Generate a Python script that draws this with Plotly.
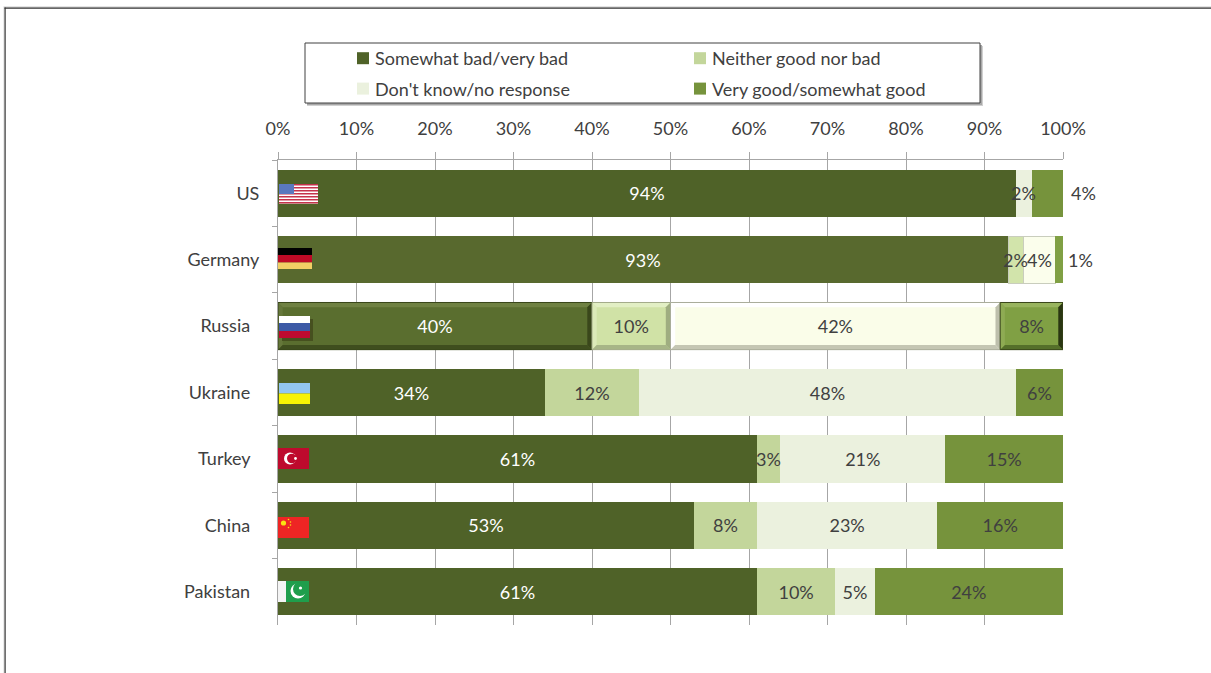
import plotly.graph_objects as go

categories = ["US", "Germany", "Russia", "Ukraine", "Turkey", "China", "Pakistan"]
label_padding = [0, 0, 2, 2, 2, 2, 2]
tick_values = list(range(0, 101, 10))
bad = [94, 93, 40, 34, 61, 53, 61]
neither = [0, 2, 10, 12, 3, 8, 10]
dont_know = [2, 4, 42, 48, 21, 23, 5]
good = [4, 1, 8, 6, 15, 16, 24]
series_names = ["Somewhat bad/very bad", "Neither good nor bad", "Don't know/no response", "Very good/somewhat good"]
series_values = [bad, neither, dont_know, good]

W, H = 1211, 673
L, R, T, B = 278, 1063, 160, 625
FONT = "Lato"
TXT = "#404040"
base = ["#4F6228", "#C3D69B", "#EBF1DE", "#76933C"]
hi_bad = {1: "#58692E", 2: "#5A6E2F"}
hi_nei = {1: "#D2E4AB", 2: "#D0E2A6"}
hi_dk = {1: "#FBFEEC", 2: "#FAFDE9"}
hi_good = {1: "#80A044", 2: "#80A044"}
highlights = [hi_bad, hi_nei, hi_dk, hi_good]

labels = [c + "\u00a0" * p for c, p in zip(categories, label_padding)]


def px(x):
    return (x - L) / (R - L)


def py(y):
    return (B - y) / (B - T)


annotations = []
fig = go.Figure()
running = [0] * len(categories)
for s, (name, vals) in enumerate(zip(series_names, series_values)):
    colors = [highlights[s].get(i, base[s]) for i in range(len(vals))]
    line_c = ["#C9CDBD" if (i == 1 and s in (1, 2)) else colors[i] for i in range(len(vals))]
    line_w = [1 if (i == 1 and s in (1, 2)) else 0 for i in range(len(vals))]
    text = []
    for i, v in enumerate(vals):
        outside = s == 3 and i in (0, 1)
        narrow = s in (1, 2) and 0 < v <= 4
        if narrow:
            # drawn above every bar so that neighbouring segments cannot cover it
            annotations.append(dict(x=running[i] + v / 2, y=labels[i], xref="x", yref="y",
                                    text=f"{v}%", showarrow=False, xanchor="center", yanchor="middle",
                                    font=dict(family=FONT, size=18, color=TXT)))
        text.append("" if v == 0 or outside or narrow else f"{v}%")
        running[i] += v
    fig.add_trace(go.Bar(
        y=labels, x=vals, name=name, orientation="h", text=text,
        textposition="inside", insidetextanchor="middle", constraintext="none",
        textangle=0,
        textfont=dict(family=FONT, size=18, color="#FFFFFF" if s == 0 else TXT),
        marker=dict(color=colors, line=dict(color=line_c, width=line_w)),
        hoverinfo="name+x+y",
    ))

shapes = []


def rect_px(x0, y0, x1, y1, color, layer="above"):
    shapes.append(dict(type="rect", xref="paper", yref="paper",
                       x0=px(x0), x1=px(x1), y0=py(y0), y1=py(y1),
                       fillcolor=color, line=dict(width=0), layer=layer))


def circle_px(cx, cy, r, color):
    shapes.append(dict(type="circle", xref="paper", yref="paper",
                       x0=px(cx - r), x1=px(cx + r), y0=py(cy + r), y1=py(cy - r),
                       fillcolor=color, line=dict(width=0), layer="above"))


# Page frame
rect_px(3.5, 6.5, W, 7.5, "#C8C8C8", "below")
rect_px(3.5, 7.5, 4.5, H, "#D8D8D8", "below")
rect_px(4.5, 7.5, W, 8.7, "#333333", "below")
rect_px(4.5, 7.5, 5.7, H, "#333333", "below")

# Legend box with shadow
rect_px(307, 46, 983, 106, "#D0D0D0", "below")
rect_px(307, 45, 982, 105, "#A8A8A8", "below")
rect_px(305, 43, 980, 103, "#FFFFFF", "below")
shapes.append(dict(type="rect", xref="paper", yref="paper", x0=px(305), x1=px(980), y0=py(103), y1=py(43),
                   line=dict(color="#404040", width=1), layer="below"))

# Mitred bevel on the Russia segments
russia = 2
start = 0
bx = 0.6
by = 0.07
half = 0.355
for s, vals in enumerate(series_values):
    v = vals[russia]
    a, b = start, start + v
    start = b
    top = ["#6F8142", "#E2EFC4", "#FFFFFF", "#98B45E"][s]
    left = ["#65773A", "#DCEAB9", "#FFFFFF", "#8EAB53"][s]
    bottom = ["#3F4E1E", "#A7B587", "#C4C6B3", "#55702A"][s]
    right = ["#3A471B", "#9FAD80", "#BDBFAC", "#2A3612"][s]
    outline = ["#3A471B", "#A3AC8A", "#A9AD9A", "#3A471B"][s]
    y0, y1 = russia - half, russia + half
    polys = [
        (f"M{a},{y0}L{b},{y0}L{b - bx},{y0 + by}L{a + bx},{y0 + by}Z", top),
        (f"M{a},{y0}L{a + bx},{y0 + by}L{a + bx},{y1 - by}L{a},{y1}Z", left),
        (f"M{a},{y1}L{a + bx},{y1 - by}L{b - bx},{y1 - by}L{b},{y1}Z", bottom),
        (f"M{b},{y0}L{b},{y1}L{b - bx},{y1 - by}L{b - bx},{y0 + by}Z", right),
    ]
    for path, col in polys:
        shapes.append(dict(type="path", xref="x", yref="y", path=path, fillcolor=col,
                           line=dict(width=0), layer="above"))
    shapes.append(dict(type="rect", xref="x", yref="y", x0=a, x1=b, y0=y0, y1=y1,
                       fillcolor="rgba(0,0,0,0)", line=dict(color=outline, width=1), layer="above"))

# Flags
# US
rect_px(279, 184, 318, 203.7, "#FFFFFF")
for k in range(7):
    rect_px(279, 184 + k * 2.98, 318, 184 + k * 2.98 + 1.5, "#C5334B")
rect_px(279, 184, 294, 194, "#5A78BE")
# Germany
rect_px(278, 248, 312, 255, "#000000")
rect_px(278, 255, 312, 262.5, "#BE0A26")
rect_px(278, 262.5, 312, 269, "#F1CF65")
# Russia
rect_px(282, 319, 313, 341, "#46501F")
rect_px(279, 316, 310, 323, "#FFFFFF")
rect_px(279, 323, 310, 331, "#3C5AA6")
rect_px(279, 331, 310, 338, "#BE0A30")
# Ukraine
rect_px(279, 383, 310, 393.5, "#92C6F0")
rect_px(279, 393.5, 310, 404, "#F8F204")
# Turkey
rect_px(278, 448, 309, 469, "#BE0A2D")
circle_px(290, 458.5, 6, "#FFFFFF")
circle_px(291.8, 458.5, 4.8, "#BE0A2D")
circle_px(295.5, 458.5, 1.4, "#FFFFFF")
# China
rect_px(278, 517, 309, 538, "#EE2524")
circle_px(283.5, 523, 2.6, "#FAE213")
for cx, cy in [(288.5, 519.5), (290.5, 522), (290.5, 525), (288.5, 527.5)]:
    circle_px(cx, cy, 0.8, "#FAE213")
# Pakistan
rect_px(278, 581, 286, 602, "#F4F4F4")
rect_px(286, 581, 309, 602, "#1F9E4C")
circle_px(298, 591, 7.5, "#FFFFFF")
circle_px(300, 589, 7, "#1F9E4C")
circle_px(300.5, 588, 1.6, "#FFFFFF")

annotations += [
    dict(x=px(1083 if i == 0 else 1080), y=labels[i], xref="paper", yref="y", text=f"{good[i]}%", showarrow=False,
         font=dict(family=FONT, size=18, color=TXT), xanchor="center", yanchor="middle")
    for i in (0, 1)
]

fig.update_layout(
    width=W, height=H, autosize=False,
    margin=dict(l=L, r=W - R, t=T, b=H - B, pad=0),
    paper_bgcolor="#FFFFFF", plot_bgcolor="#FFFFFF",
    barmode="stack", bargap=0.29,
    font=dict(family=FONT, size=18, color=TXT),
    showlegend=True,
    legend=dict(orientation="h", x=px(335), y=py(44), xanchor="left", yanchor="top",
                entrywidth=292, entrywidthmode="pixels", bgcolor="rgba(0,0,0,0)",
                borderwidth=0, traceorder="normal", tracegroupgap=0,
                font=dict(family=FONT, size=18, color=TXT)),
    xaxis=dict(side="top", range=[0, 100], tickmode="array", tickvals=tick_values,
               ticktext=[f"{v}%" for v in tick_values],
               showgrid=True, gridcolor="#A6A6A6", gridwidth=1,
               showline=True, linecolor="#A6A6A6", linewidth=1, mirror=False,
               ticks="outside", ticklen=7, tickcolor="#A6A6A6", zeroline=False,
               ticklabelstandoff=10,
               tickfont=dict(family=FONT, size=18, color=TXT), fixedrange=True),
    yaxis=dict(type="category", categoryorder="array", categoryarray=labels,
               range=[6.5, -0.5], tickson="boundaries", ticks="outside", ticklen=5,
               tickcolor="#A6A6A6", showline=True, linecolor="#A6A6A6", linewidth=1,
               showgrid=False, zeroline=False, ticklabelstandoff=14,
               tickfont=dict(family=FONT, size=18, color=TXT), fixedrange=True),
    shapes=shapes,
    annotations=annotations,
)

post = """
document.body.style.margin='0';document.body.style.overflow='hidden';
document.querySelectorAll('.legend .legendsymbols').forEach(function(n){n.setAttribute('transform','translate(8,0)');});
document.querySelectorAll('.legend .traces').forEach(function(n,i){
  if(i<2){var m=/translate\\(([-\\d.]+)[, ]+([-\\d.]+)\\)/.exec(n.getAttribute('transform'));
    if(m){n.setAttribute('transform','translate('+m[1]+','+(parseFloat(m[2])-4)+')');}}
});
"""
fig.write_html("out.html", config=dict(displayModeBar=False), post_script=post)
